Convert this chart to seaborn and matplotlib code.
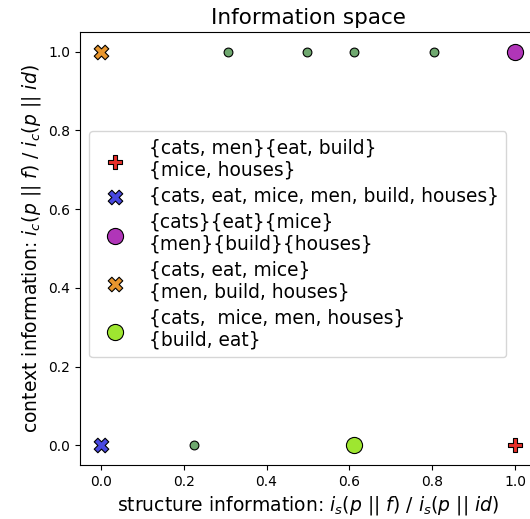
import matplotlib
matplotlib.use("Agg")
import matplotlib.pyplot as plt
import seaborn as sns
import pandas as pd

# named partitions (legend entries)
part_labels = [
    "{cats, men}{eat, build}\n{mice, houses}",
    "{cats, eat, mice, men, build, houses}",
    "{cats}{eat}{mice}\n{men}{build}{houses}",
    "{cats, eat, mice}\n{men, build, houses}",
    "{cats,  mice, men, houses}\n{build, eat}",
]
part_x = [1.0, 0.0, 1.0, 0.0, 0.612]
part_y = [0.0, 0.0, 1.0, 1.0, 0.0]
part_colors = ["#e8302a", "#4848e0", "#b035b8", "#e8962e", "#9ee630"]
part_markers = ["P", "X", "o", "X", "o"]
part_sizes = [110, 110, 135, 110, 135]

# other partitions (no legend)
other_x = [0.307, 0.498, 0.611, 0.804, 0.225]
other_y = [1.0, 1.0, 1.0, 1.0, 0.0]

df_other = pd.DataFrame({"x": other_x, "y": other_y})

fig = plt.figure(figsize=(5.3, 5.19), dpi=100)
ax = fig.add_axes([80 / 530, 54 / 519, 456 / 530, 433 / 519])

sns.scatterplot(data=df_other, x="x", y="y", color="#6fa86f", s=40,
                edgecolor="black", linewidth=0.8, ax=ax)

for lab, x, y, c, m, s in zip(part_labels, part_x, part_y, part_colors, part_markers, part_sizes):
    d = pd.DataFrame({"x": [x], "y": [y]})
    sns.scatterplot(data=d, x="x", y="y", color=c, marker=m, s=s,
                    edgecolor="black", linewidth=0.8, label=lab, ax=ax)

ax.set_xlim(-0.05, 1.05)
ax.set_ylim(-0.05, 1.05)
ax.set_title("Information space", fontsize=15.5)
ax.set_xlabel(r"structure information: $i_s(p\ ||\ f)$ / $i_s(p\ ||\ id)$", fontsize=13.5)
ax.set_ylabel(r"context information: $i_c(p\ ||\ f)$ / $i_c(p\ ||\ id)$", fontsize=13.5)
ax.tick_params(labelsize=10)
ax.legend(loc="center left", bbox_to_anchor=(0.0, 0.51), fontsize=13.4,
          labelspacing=0.38)

fig.savefig("out.png", dpi=100)
